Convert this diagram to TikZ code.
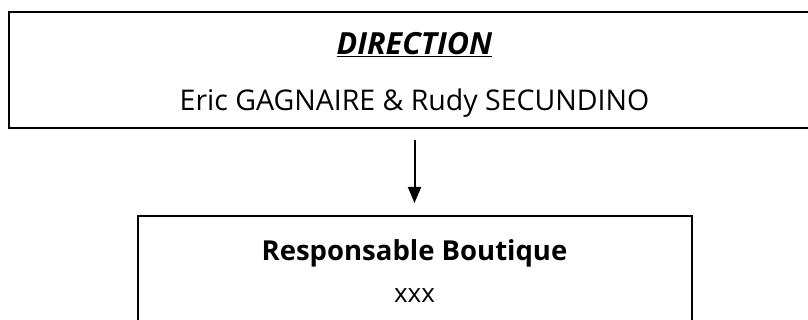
\documentclass[tikz,border=0pt]{standalone}
\usepackage{fontspec}
\setmainfont{Open Sans}
\usetikzlibrary{arrows.meta,positioning}

\begin{document}
\begin{tikzpicture}[x=1pt,y=1pt,
  box/.style={draw=black, line width=2pt, inner sep=0pt, minimum height=116pt},
  txt/.style={anchor=base, inner sep=0pt, font=\fontsize{28.5}{34}\selectfont},
  link/.style={line width=2pt, -{Triangle[width=13pt,length=16pt]}}]

\clip (0,0) rectangle (808,320);

% the two boxes
\node[box, minimum width=811pt] (direction) at (414.5,250) {};
\node[box, minimum width=554pt, minimum height=124pt] (boutique) at (414.5,42) {};

% texts
\node[txt, font=\fontsize{30.5}{36}\selectfont] (dirtitle) at ([yshift=-44pt]direction.north) {\underline{\textbf{\textit{DIRECTION}}}};
\node[txt] (dirnames) at ([yshift=-100pt]direction.north) {Eric GAGNAIRE \& Rudy SECUNDINO};
\node[txt, font=\fontsize{27.5}{33}\selectfont] (boutitle) at ([yshift=-46pt]boutique.north) {\textbf{Responsable Boutique}};
\node[txt, font=\fontsize{26}{31}\selectfont] (bouname) at ([yshift=-88pt]boutique.north) {xxx};

\draw[link] ([yshift=-11pt]direction.south) -- ([yshift=12pt]boutique.north);

\end{tikzpicture}
\end{document}
